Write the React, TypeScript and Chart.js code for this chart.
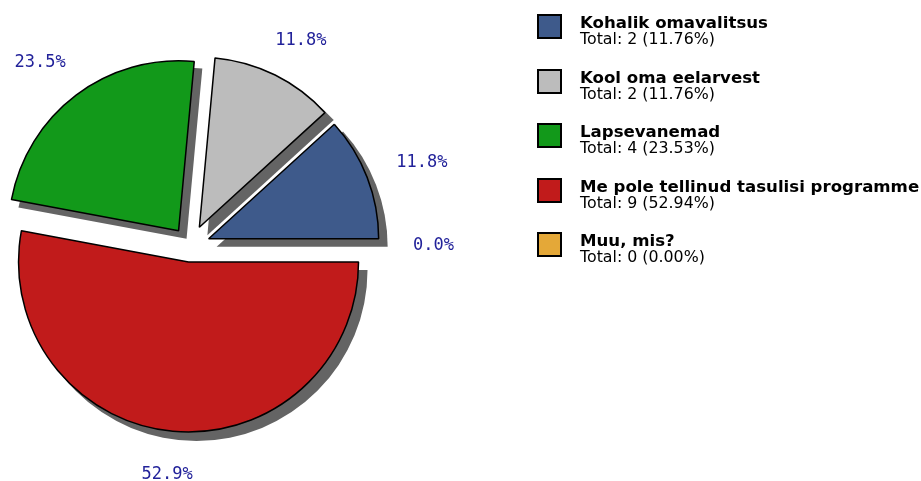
import React, { useEffect, useRef } from "react";
import { Chart, registerables } from "chart.js";

Chart.register(...registerables);

const categories = [
  "Kohalik omavalitsus",
  "Kool oma eelarvest",
  "Lapsevanemad",
  "Me pole tellinud tasulisi programme",
  "Muu, mis?",
];
const counts = [2, 2, 4, 9, 0];
const sliceColors = ["#3e5a8b", "#bcbcbc", "#12991a", "#c11b1b", "#e4a838"];
// explode distance of each slice, in pixels (style, same order as categories)
const explodePx = [20, 21, 19, 16, 0];

const SHADOW_DX = 8;
const SHADOW_DY = 8;
const LABEL_R = 223;
const LABEL_H = 14;

const total = counts.reduce((a, b) => a + b, 0);

const explodedPiePlugin = {
  id: "explodedPie",
  beforeDatasetDraw(chart: any, args: any) {
    if (args.index !== 0) return;
    const ctx = chart.ctx;
    const meta = chart.getDatasetMeta(0);
    const ex = meta._explode as number[];
    // shadows first
    ctx.save();
    ctx.fillStyle = "#646464";
    meta.data.forEach((el: any, i: number) => {
      if (!el.circumference) return;
      const half = (el.startAngle + el.endAngle) / 2;
      const cx = el.x + Math.cos(half) * ex[i] + SHADOW_DX;
      const cy = el.y + Math.sin(half) * ex[i] + SHADOW_DY;
      ctx.beginPath();
      ctx.moveTo(cx, cy);
      ctx.arc(cx, cy, el.outerRadius + 1, el.startAngle, el.endAngle);
      ctx.closePath();
      ctx.fill();
    });
    ctx.restore();
    // slices, drawn by the library's arc elements, shifted outwards
    meta.data.forEach((el: any, i: number) => {
      if (!el.circumference) return;
      const half = (el.startAngle + el.endAngle) / 2;
      ctx.save();
      ctx.translate(Math.cos(half) * ex[i], Math.sin(half) * ex[i]);
      el.draw(ctx);
      ctx.restore();
    });
    return false;
  },
  afterDatasetsDraw(chart: any) {
    const ctx = chart.ctx;
    const meta = chart.getDatasetMeta(0);
    const data = chart.data.datasets[0].data as number[];
    ctx.save();
    ctx.font = '17px "DejaVu Sans Mono"';
    ctx.fillStyle = "#22229a";
    ctx.textAlign = "center";
    ctx.textBaseline = "middle";
    meta.data.forEach((el: any, i: number) => {
      const half = (el.startAngle + el.endAngle) / 2;
      const pct = ((data[i] / total) * 100).toFixed(1) + "%";
      const w = ctx.measureText(pct).width;
      const c = Math.cos(half);
      const s = Math.sin(half);
      const x = el.x + c * LABEL_R + (c * w) / 2;
      const y = el.y + s * LABEL_R + (s * LABEL_H) / 2;
      ctx.fillText(pct, x, y);
    });
    ctx.restore();
  },
};

export default function App() {
  const canvasRef = useRef<HTMLCanvasElement | null>(null);

  useEffect(() => {
    if (!canvasRef.current) return;
    // Chart.js draws clockwise; the reference runs counter-clockwise from 3 o'clock,
    // so the series is fed in reverse order.
    const rev = <T,>(a: T[]) => a.slice().reverse();
    const chart = new Chart(canvasRef.current, {
      type: "pie",
      data: {
        labels: rev(categories),
        datasets: [
          {
            data: rev(counts),
            backgroundColor: rev(sliceColors),
            borderColor: "#000000",
            borderWidth: 1.5,
            radius: 170,
          } as any,
        ],
      },
      options: {
        responsive: false,
        animation: false,
        rotation: 90,
        layout: { padding: { left: 0, top: 11, right: 541, bottom: 0 } },
        plugins: {
          legend: { display: false },
          tooltip: { enabled: false },
        },
      } as any,
      plugins: [
        {
          id: "explodeSetup",
          beforeDatasetsDraw(c: any) {
            c.getDatasetMeta(0)._explode = rev(explodePx);
          },
        },
        explodedPiePlugin,
      ],
    });
    return () => chart.destroy();
  }, []);

  return (
    <div
      style={{
        position: "absolute",
        left: 0,
        top: 0,
        width: 921,
        height: 481,
        overflow: "hidden",
        background: "#ffffff",
      }}
    >
      <canvas
        ref={canvasRef}
        width={921}
        height={481}
        style={{ position: "absolute", left: 0, top: 0 }}
      />
      {categories.map((cat, i) => {
        const pct = total ? (counts[i] / total) * 100 : 0;
        return (
          <div
            key={cat}
            style={{
              position: "absolute",
              left: 537,
              top: 14 + i * 54.5,
              width: 384,
              height: 50,
            }}
          >
            <div
              style={{
                position: "absolute",
                left: 0,
                top: 0,
                width: 25,
                height: 25,
                boxSizing: "border-box",
                border: "2px solid #000",
                background: sliceColors[i],
              }}
            />
            <div
              style={{
                position: "absolute",
                left: 43,
                top: 1,
                whiteSpace: "nowrap",
                fontFamily: '"DejaVu Sans", sans-serif',
                color: "#000",
              }}
            >
              <div style={{ fontSize: 16.6, lineHeight: "16px", fontWeight: "bold" }}>{cat}</div>
              <div style={{ fontSize: 15.8, lineHeight: "16px" }}>
                {"Total: " + counts[i] + " (" + pct.toFixed(2) + "%)"}
              </div>
            </div>
          </div>
        );
      })}
    </div>
  );
}
